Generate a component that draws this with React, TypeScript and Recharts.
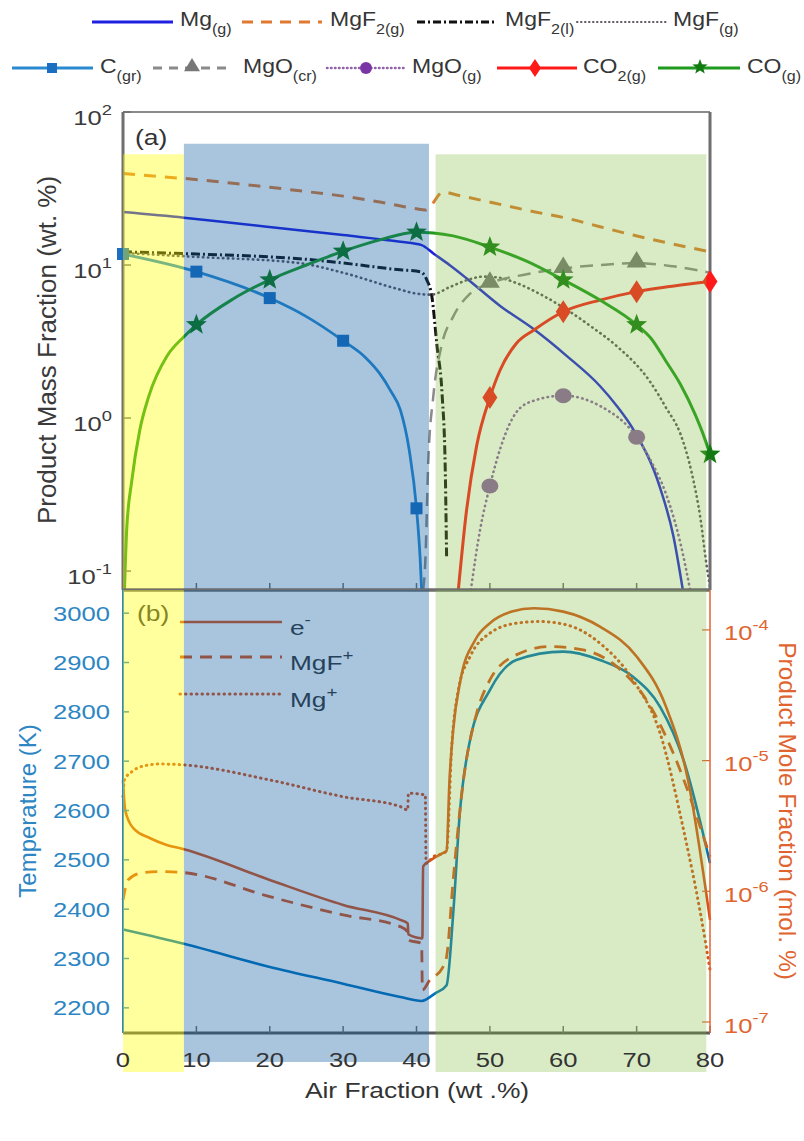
import React from 'react';
import { ComposedChart, Line, XAxis, YAxis, ReferenceArea } from 'recharts';

type Pt = [number, number];

// ---------- panel (a): product mass fraction, wt.% vs air fraction, wt.% ----------
const mgGas: Pt[] = [[0, 22.2], [8.3, 20.4], [15, 18.8], [24, 16.9], [30, 15.7], [37.8, 14.2], [40.7, 13.5], [42.3, 11.9], [44.5, 10.0], [46.8, 8.2], [51.4, 5.4], [56, 3.8], [60.5, 2.54], [65, 1.62], [67.3, 1.2], [69.5, 0.85], [73.2, 0.35], [75, 0.17], [76.3, 0.0752]];
const mgf2Gas: Pt[] = [[0, 39.7], [5, 37.8], [8.3, 36.8], [15, 34.2], [20, 32.2], [25, 30.2], [30, 28.2], [35, 25.8], [38, 24.2], [40, 23.3], [41.2, 22.9], [42, 24.6], [43.6, 30.0], [45.5, 28.7], [50.4, 25.5], [56, 22.3], [60.5, 20.2], [65, 17.8], [69.5, 15.7], [74.1, 14.0], [80, 12.2]];
const mgf2Liq: Pt[] = [[0, 12.2], [10, 11.8], [20, 11.3], [24, 11.0], [30, 10.3], [37.8, 9.3], [40.5, 9.05], [41.4, 8.0], [42.1, 6.2], [42.8, 2.95], [43.5, 1.4], [43.9, 0.51], [44.1, 0.125]];
const mgfGas: Pt[] = [[0, 12.0], [10, 11.3], [24, 10.3], [30, 8.9], [37.8, 6.9], [40, 6.5], [42, 6.4], [44.6, 7.2], [47, 8.0], [49.1, 8.4], [51, 8.3], [53.7, 7.6], [57, 6.4], [60.5, 5.1], [64, 3.9], [67.3, 2.95], [71.9, 1.71], [74, 1.17], [76, 0.78], [77.5, 0.44], [78.7, 0.22], [79.5, 0.112], [80, 0.079]];
const cGr: Pt[] = [[0, 11.8], [10, 9.05], [20, 6.08], [25, 4.6], [30, 3.2], [33, 2.5], [35, 1.95], [36.5, 1.5], [37.8, 1.13], [39, 0.62], [40, 0.257], [40.5, 0.12], [40.7, 0.0752]];
const cGrMarks: Pt[] = [[0, 11.8], [10, 9.05], [20, 6.08], [30, 3.2], [40, 0.257]];
const mgoCr: Pt[] = [[40.9, 0.0752], [41.2, 0.115], [41.6, 0.51], [42.3, 1.4], [43.4, 2.95], [45, 4.6], [47.3, 6.5], [50, 7.6], [55, 8.7], [60, 9.5], [65, 10.0], [70, 10.3], [75, 9.8], [80, 8.9]];
const mgoCrMarks: Pt[] = [[50, 7.6], [60, 9.5], [70, 10.3]];
const mgoGas: Pt[] = [[47.4, 0.0752], [48.7, 0.19], [50, 0.36], [51.5, 0.65], [53.6, 1.09], [56, 1.3], [60, 1.4], [65, 1.2], [70, 0.75], [72, 0.52], [74.1, 0.31], [76, 0.15], [77.3, 0.0752]];
const mgoGasMarks: Pt[] = [[50, 0.36], [60, 1.4], [70, 0.75]];
const co2Gas: Pt[] = [[45.7, 0.0752], [46.8, 0.245], [48.2, 0.66], [50, 1.36], [51.4, 2.06], [53.6, 3.07], [56, 3.76], [60, 4.95], [65, 5.9], [70, 6.7], [75.1, 7.3], [80, 7.8]];
const co2Marks: Pt[] = [[50, 1.36], [60, 4.95], [70, 6.7], [80, 7.8]];
const coGas: Pt[] = [[0.2, 0.0752], [0.5, 0.185], [1.2, 0.39], [2.3, 0.84], [3.5, 1.38], [6, 2.54], [8.3, 3.4], [10, 4.07], [15, 6.0], [20, 8.0], [25, 10.0], [30, 12.3], [35, 14.6], [40, 16.4], [42.3, 16.2], [45, 15.5], [50, 13.1], [55, 10.6], [60, 8.0], [65, 5.9], [70, 4.07], [72, 3.3], [74, 2.35], [76, 1.65], [78, 1.05], [79, 0.8], [80, 0.58]];
const coMarks: Pt[] = [[10, 4.07], [20, 8.0], [30, 12.3], [40, 16.4], [50, 13.1], [60, 8.0], [70, 4.07], [80, 0.58]];

// ---------- panel (b): temperature (K) and ion mole fractions ----------
const temperatureK: Pt[] = [[0, 2359], [8.3, 2330], [20, 2283], [30, 2249], [37.8, 2222], [40.7, 2214], [42.5, 2229], [44.1, 2246], [45, 2391], [45.9, 2594], [47.3, 2743], [50, 2844], [53.6, 2905], [60, 2922], [65, 2905], [69.5, 2871], [73.2, 2810], [76.4, 2702], [80, 2493]];
// mole fractions, stored as powers of ten
const electronExp: Pt[] = [[0, -5.15], [0.3, -5.38], [1.4, -5.517], [3.7, -5.594], [5.95, -5.645], [8.3, -5.678], [20, -5.913], [30, -6.104], [37.8, -6.219], [38.8, -6.245], [38.9, -6.33], [40.8, -6.36], [40.9, -5.81], [42, -5.76], [43.5, -5.71], [44.1, -5.69], [44.5, -5.148], [45, -4.765], [46, -4.383], [48, -4.077], [50, -3.949], [53, -3.86], [56, -3.834], [60, -3.86], [65, -3.975], [70, -4.204], [74, -4.587], [77, -5.148], [80, -6.219]];
const mgfIonExp: Pt[] = [[0, -6.066], [0.7, -5.913], [2.3, -5.862], [5, -5.849], [8.3, -5.857], [20, -6.041], [30, -6.181], [37.8, -6.27], [38.8, -6.31], [38.9, -6.372], [40.7, -6.4], [40.8, -6.755], [41.8, -6.68], [43.5, -6.589], [44.1, -6.5], [45, -5.913], [46.4, -5.148], [48.2, -4.637], [50, -4.383], [53.6, -4.191], [58.1, -4.128], [62.7, -4.153], [67.3, -4.281], [71.9, -4.587], [75, -4.944], [80, -5.735]];
const mgIonExp: Pt[] = [[0, -5.276], [0.2, -5.148], [1.2, -5.085], [2.8, -5.041], [5, -5.026], [8.3, -5.033], [20, -5.148], [30, -5.276], [37.8, -5.352], [38.8, -5.377], [38.9, -5.25], [41.2, -5.263], [41.3, -5.786], [42.3, -5.735], [43.6, -5.71], [44.1, -5.69], [44.8, -4.893], [45.7, -4.459], [47.3, -4.204], [50, -4.025], [53.6, -3.949], [56.8, -3.936], [60.5, -3.962], [65, -4.102], [69.5, -4.383], [73.2, -4.791], [76.4, -5.531], [78.7, -6.169], [80, -6.6]];

// ---------- axes ----------
const airTicks = [0, 10, 20, 30, 40, 50, 60, 70, 80];
const steps = [2, 3, 4, 5, 6, 7, 8, 9];
const massDecades = [0.1, 1, 10, 100];
const massMinor = [0.08, 0.09, ...steps.map((k) => k / 10), ...steps, ...steps.map((k) => k * 10)];
const tempTicks = [2200, 2300, 2400, 2500, 2600, 2700, 2800, 2900, 3000];
const moleDecades = [1e-7, 1e-6, 1e-5, 1e-4];
const moleMinor = [9e-8, ...steps.map((k) => k * 1e-7), ...steps.map((k) => k * 1e-6), ...steps.map((k) => k * 1e-5), 2e-4];

const MASS_DOMAIN: [number, number] = [0.0752, 100];
const TEMP_DOMAIN: [number, number] = [2149, 3047];
const MOLE_DOMAIN: [number, number] = [8.24e-8, 2.02e-4];

// shaded regimes (air fraction, wt.%)
const regimes = [
  { x1: 0, x2: 8.3, fill: '#ffff00', op: 0.38, topMass: 53, bottomT: 2070 },
  { x1: 8.3, x2: 41.7, fill: '#0a5aa0', op: 0.35, topMass: 62, bottomT: 2090 },
  { x1: 42.6, x2: 79.5, fill: '#7dbe3c', op: 0.3, topMass: 53, bottomT: 2070 },
];

const FONT = "'Liberation Sans', Arial, Helvetica, sans-serif";
const INK = '#363636';
const FRAME = '#6f6f6f';
const T_COL = '#0072bd';
const T_TXT = '#2d86c3';
const ION = '#d95319';
const ION_TXT = '#e0642f';
const COL = {
  mg: '#2020e0',
  mgf2g: '#e07a30',
  mgf2l: '#111111',
  mgf: '#5f5660',
  cgr: '#2a8ad0',
  cgrMark: '#1b6fc0',
  mgocr: '#8a8a8a',
  mgocrMark: '#777777',
  mgog: '#9060a8',
  co2: '#ff1a1a',
  co: '#1f9a1f',
  coMark: '#127a12',
};

const pts = (a: Pt[]) => a.map(([x, v]) => ({ x, v }));
const pow10 = (a: Pt[]) => a.map(([x, e]) => ({ x, v: Math.pow(10, e) }));

// ---------- small drawing helpers ----------
const Wide = ({ x, y, size, anchor = 'start', fill = INK, sx = 1.22, children }: any) => (
  <text transform={`translate(${x} ${y}) scale(${sx} 1)`} fontSize={size} fontFamily={FONT} textAnchor={anchor} fill={fill}>
    {children}
  </text>
);

const RotText = ({ x, y, angle, size, fill = INK, children }: any) => (
  <text transform={`translate(${x} ${y}) rotate(${angle})`} y={size * 0.36} fontSize={size} fontFamily={FONT} textAnchor="middle" fill={fill}>
    {children}
  </text>
);

const starPath = (cx: number, cy: number, R: number, r: number) => {
  let d = '';
  for (let i = 0; i < 10; i++) {
    const a = -Math.PI / 2 + (i * Math.PI) / 5;
    const rad = i % 2 ? r : R;
    d += (i ? 'L' : 'M') + (cx + rad * Math.cos(a)).toFixed(2) + ',' + (cy + rad * Math.sin(a)).toFixed(2);
  }
  return d + 'Z';
};
const diamondPath = (cx: number, cy: number, w: number, h: number) => `M${cx},${cy - h}L${cx + w},${cy}L${cx},${cy + h}L${cx - w},${cy}Z`;
const trianglePath = (cx: number, cy: number, s: number) => `M${cx},${cy - s}L${cx + s},${cy + s * 0.65}L${cx - s},${cy + s * 0.65}Z`;

const squareDot = (p: any) => <rect key={`sq${p.index}`} x={p.cx - 6} y={p.cy - 6} width={12} height={12} fill={COL.cgrMark} />;
const triDot = (p: any) => <path key={`tr${p.index}`} d={trianglePath(p.cx, p.cy - 2, 10)} fill={COL.mgocrMark} />;
const circleDot = (p: any) => <ellipse key={`ci${p.index}`} cx={p.cx} cy={p.cy} rx={8.5} ry={7.5} fill={COL.mgog} />;
const diamondDot = (p: any) => <path key={`di${p.index}`} d={diamondPath(p.cx, p.cy, 7.5, 11.5)} fill={COL.co2} />;
const starDot = (p: any) => <path key={`st${p.index}`} d={starPath(p.cx, p.cy, 11, 4.6)} fill={COL.coMark} />;

// ---------- tick renderers ----------
const Blank = () => <g />;

const MassTick = (p: any) => {
  const e = Math.round(Math.log10(p.payload.value));
  return (
    <Wide x={p.x - 19} y={p.y + 12.5} size={21} anchor="end" fill="#3a3a3a">
      10<tspan dy={-10} fontSize={15}>{e}</tspan>
    </Wide>
  );
};

const TempTick = (p: any) => (
  <Wide x={p.x - 19} y={p.y + 7.5} size={21} anchor="end" fill={T_TXT}>
    {p.payload.value}
  </Wide>
);

const MoleTick = (p: any) => {
  const e = Math.round(Math.log10(p.payload.value));
  return (
    <Wide x={p.x + 22} y={p.y + 10.5} size={21} anchor="start" fill={ION_TXT}>
      10<tspan dy={-10} fontSize={15}>{e}</tspan>
    </Wide>
  );
};

const AirTick = (p: any) => (
  <Wide x={p.x} y={p.y + 41} size={21} anchor="middle" fill="#333">
    {p.payload.value}
  </Wide>
);

const frameLine = { stroke: FRAME, strokeWidth: 3 };
const frameTick = { stroke: FRAME, strokeWidth: 1.5 };

// ---------- top legend ----------
function TopLegend() {
  const sub = (t: string) => <tspan dy={8} fontSize={14}>{t}</tspan>;
  return (
    <svg width={804} height={100} style={{ position: 'absolute', left: 0, top: 0 }}>
      {/* row 1 */}
      <line x1={92} y1={22} x2={173} y2={22} stroke={COL.mg} strokeWidth={3} />
      <Wide x={180} y={26} size={20} sx={1.15}>Mg{sub('(g)')}</Wide>
      <line x1={242} y1={22} x2={322} y2={22} stroke={COL.mgf2g} strokeWidth={3} strokeDasharray="11 8" />
      <Wide x={330} y={26} size={20} sx={1.15}>MgF{sub('2(g)')}</Wide>
      <line x1={417} y1={22} x2={497} y2={22} stroke={COL.mgf2l} strokeWidth={3} strokeDasharray="8 3 2 3" />
      <Wide x={505} y={26} size={20} sx={1.15}>MgF{sub('2(l)')}</Wide>
      <line x1={577} y1={22} x2={667} y2={22} stroke={COL.mgf} strokeWidth={2} strokeDasharray="0.5 3.5" strokeLinecap="round" />
      <Wide x={673} y={26} size={20} sx={1.15}>MgF{sub('(g)')}</Wide>
      {/* row 2 */}
      <line x1={12} y1={68} x2={93} y2={68} stroke={COL.cgr} strokeWidth={3} />
      <rect x={47} y={63} width={10} height={10} fill={COL.cgrMark} />
      <Wide x={100} y={73} size={20} sx={1.15}>C{sub('(gr)')}</Wide>
      <line x1={153} y1={68} x2={233} y2={68} stroke={COL.mgocr} strokeWidth={3} strokeDasharray="9 7" />
      <path d={trianglePath(192, 66, 8)} fill={COL.mgocrMark} />
      <Wide x={243} y={73} size={20} sx={1.15}>MgO{sub('(cr)')}</Wide>
      <line x1={327} y1={68} x2={405} y2={68} stroke={COL.mgog} strokeWidth={2.5} strokeDasharray="0.5 3.5" strokeLinecap="round" />
      <ellipse cx={366} cy={68} rx={6} ry={6} fill="#7a35a5" />
      <Wide x={412} y={73} size={20} sx={1.15}>MgO{sub('(g)')}</Wide>
      <line x1={497} y1={68} x2={577} y2={68} stroke={COL.co2} strokeWidth={3} />
      <path d={diamondPath(535, 68, 6, 9)} fill={COL.co2} />
      <Wide x={583} y={73} size={20} sx={1.15}>CO{sub('2(g)')}</Wide>
      <line x1={658} y1={68} x2={740} y2={68} stroke={COL.co} strokeWidth={3} />
      <path d={starPath(700, 67, 8, 3.4)} fill={COL.coMark} />
      <Wide x={747} y={73} size={20} sx={1.15}>CO{sub('(g)')}</Wide>
    </svg>
  );
}

export default function App() {
  return (
    <div style={{ position: 'absolute', left: 0, top: 0, width: 804, height: 1141, background: '#fff', overflow: 'hidden' }}>
      {/* panel (a) */}
      <div style={{ position: 'absolute', left: 0, top: 0 }}>
        <ComposedChart width={804} height={600} margin={{ top: 110, right: 54, bottom: 0, left: 63 }}>
          <XAxis xAxisId="b" type="number" dataKey="x" domain={[0, 80]} ticks={airTicks} interval={0} height={10} tick={Blank} tickSize={-7} tickMargin={0} axisLine={frameLine} tickLine={frameTick} />
          <XAxis xAxisId="t" orientation="top" type="number" dataKey="x" domain={[0, 80]} ticks={airTicks} interval={0} height={2} tick={Blank} tickSize={-7} tickMargin={0} axisLine={{ stroke: '#8a8a8a', strokeWidth: 2 }} tickLine={frameTick} />
          <YAxis yAxisId="lm" orientation="left" width={0} type="number" scale="log" domain={MASS_DOMAIN} ticks={massMinor} interval={0} tick={Blank} tickSize={-4} axisLine={false} tickLine={frameTick} />
          <YAxis yAxisId="l" orientation="left" width={60} type="number" scale="log" domain={MASS_DOMAIN} ticks={massDecades} interval={0} tick={MassTick} tickSize={-8} tickMargin={0} axisLine={frameLine} tickLine={frameTick} />
          <YAxis yAxisId="rm" orientation="right" width={0} type="number" scale="log" domain={MASS_DOMAIN} ticks={massMinor} interval={0} tick={Blank} tickSize={-4} axisLine={false} tickLine={frameTick} />
          <YAxis yAxisId="r" orientation="right" width={40} type="number" scale="log" domain={MASS_DOMAIN} ticks={massDecades} interval={0} tick={Blank} tickSize={-8} tickMargin={0} axisLine={frameLine} tickLine={frameTick} />

          <Line xAxisId="b" yAxisId="l" data={pts(mgf2Gas)} dataKey="v" type="monotone" stroke={COL.mgf2g} strokeWidth={3} strokeDasharray="12 9" dot={false} activeDot={false} isAnimationActive={false} />
          <Line xAxisId="b" yAxisId="l" data={pts(mgGas)} dataKey="v" type="monotone" stroke={COL.mg} strokeWidth={2.5} dot={false} activeDot={false} isAnimationActive={false} />
          <Line xAxisId="b" yAxisId="l" data={pts(mgf2Liq)} dataKey="v" type="monotone" stroke={COL.mgf2l} strokeWidth={3} strokeDasharray="9 3 2 3" dot={false} activeDot={false} isAnimationActive={false} />
          <Line xAxisId="b" yAxisId="l" data={pts(mgfGas)} dataKey="v" type="monotone" stroke={COL.mgf} strokeWidth={2.6} strokeDasharray="0.5 4.5" strokeLinecap="round" dot={false} activeDot={false} isAnimationActive={false} />
          <Line xAxisId="b" yAxisId="l" data={pts(mgoCr)} dataKey="v" type="monotone" stroke={COL.mgocr} strokeWidth={2.5} strokeDasharray="13 8" dot={false} activeDot={false} isAnimationActive={false} />
          <Line xAxisId="b" yAxisId="l" data={pts(mgoGas)} dataKey="v" type="monotone" stroke={COL.mgog} strokeWidth={2.6} strokeDasharray="0.5 4.5" strokeLinecap="round" dot={false} activeDot={false} isAnimationActive={false} />
          <Line xAxisId="b" yAxisId="l" data={pts(cGr)} dataKey="v" type="monotone" stroke={COL.cgr} strokeWidth={2.8} dot={false} activeDot={false} isAnimationActive={false} />
          <Line xAxisId="b" yAxisId="l" data={pts(co2Gas)} dataKey="v" type="monotone" stroke={COL.co2} strokeWidth={3} dot={false} activeDot={false} isAnimationActive={false} />
          <Line xAxisId="b" yAxisId="l" data={pts(coGas)} dataKey="v" type="monotone" stroke={COL.co} strokeWidth={3} dot={false} activeDot={false} isAnimationActive={false} />

          <Line xAxisId="b" yAxisId="l" data={pts(cGrMarks)} dataKey="v" stroke="none" dot={squareDot} activeDot={false} isAnimationActive={false} />
          <Line xAxisId="b" yAxisId="l" data={pts(mgoCrMarks)} dataKey="v" stroke="none" dot={triDot} activeDot={false} isAnimationActive={false} />
          <Line xAxisId="b" yAxisId="l" data={pts(mgoGasMarks)} dataKey="v" stroke="none" dot={circleDot} activeDot={false} isAnimationActive={false} />
          <Line xAxisId="b" yAxisId="l" data={pts(co2Marks)} dataKey="v" stroke="none" dot={diamondDot} activeDot={false} isAnimationActive={false} />
          <Line xAxisId="b" yAxisId="l" data={pts(coMarks)} dataKey="v" stroke="none" dot={starDot} activeDot={false} isAnimationActive={false} />

          <Wide x={135} y={145} size={22} sx={1.2} fill="#333">(a)</Wide>
          <RotText x={47} y={350} angle={-90} size={26} fill="#3a3a3a">Product Mass Fraction (wt. %)</RotText>

          {regimes.map((r, i) => (
            <ReferenceArea key={`ra${i}`} xAxisId="b" yAxisId="l" x1={r.x1} x2={r.x2} y1={MASS_DOMAIN[0]} y2={r.topMass} fill={r.fill} fillOpacity={r.op} stroke="none" ifOverflow="visible" zIndex={1500} />
          ))}
        </ComposedChart>
      </div>

      {/* panel (b) */}
      <div style={{ position: 'absolute', left: 0, top: 560 }}>
        <ComposedChart width={804} height={581} margin={{ top: 28, right: 54, bottom: 48, left: 63 }}>
          <XAxis xAxisId="b" type="number" dataKey="x" domain={[0, 80]} ticks={airTicks} interval={0} height={60} tick={AirTick} tickSize={-7} tickMargin={0} axisLine={{ stroke: '#5a5a5a', strokeWidth: 3 }} tickLine={frameTick} />
          <XAxis xAxisId="t" orientation="top" type="number" dataKey="x" domain={[0, 80]} ticks={airTicks} interval={0} height={2} tick={Blank} tickSize={-7} tickMargin={0} axisLine={frameLine} tickLine={frameTick} />
          <YAxis yAxisId="T" orientation="left" width={60} type="number" domain={TEMP_DOMAIN} allowDataOverflow ticks={tempTicks} interval={0} tick={TempTick} tickSize={-6} tickMargin={0} axisLine={{ stroke: T_TXT, strokeWidth: 2 }} tickLine={{ stroke: T_TXT, strokeWidth: 1.5 }} />
          <YAxis yAxisId="mm" orientation="right" width={0} type="number" scale="log" domain={MOLE_DOMAIN} allowDataOverflow ticks={moleMinor} interval={0} tick={Blank} tickSize={-4} axisLine={false} tickLine={{ stroke: ION_TXT, strokeWidth: 1.2 }} />
          <YAxis yAxisId="m" orientation="right" width={40} type="number" scale="log" domain={MOLE_DOMAIN} allowDataOverflow ticks={moleDecades} interval={0} tick={MoleTick} tickSize={-8} tickMargin={0} axisLine={{ stroke: ION_TXT, strokeWidth: 1.5 }} tickLine={{ stroke: ION_TXT, strokeWidth: 1.2 }} />

          <Line xAxisId="b" yAxisId="T" data={pts(temperatureK)} dataKey="v" type="monotone" stroke={T_COL} strokeWidth={2.6} dot={false} activeDot={false} isAnimationActive={false} />
          <Line xAxisId="b" yAxisId="m" data={pow10(mgfIonExp)} dataKey="v" type="monotone" stroke={ION} strokeWidth={2.8} strokeDasharray="12 8" dot={false} activeDot={false} isAnimationActive={false} />
          <Line xAxisId="b" yAxisId="m" data={pow10(mgIonExp)} dataKey="v" type="monotone" stroke={ION} strokeWidth={3} strokeDasharray="0.5 5" strokeLinecap="round" dot={false} activeDot={false} isAnimationActive={false} />
          <Line xAxisId="b" yAxisId="m" data={pow10(electronExp)} dataKey="v" type="monotone" stroke={ION} strokeWidth={2.6} dot={false} activeDot={false} isAnimationActive={false} />

          {/* ion legend and labels */}
          <Wide x={137} y={61} size={22} sx={1.2} fill="#3a3a3a">(b)</Wide>
          <line x1={180} y1={62} x2={282} y2={62} stroke={ION} strokeWidth={2.6} />
          <Wide x={290} y={74.5} size={21} sx={1.25}>e<tspan dy={-10} fontSize={15}>-</tspan></Wide>
          <line x1={180} y1={97} x2={282} y2={97} stroke={ION} strokeWidth={2.8} strokeDasharray="12 8" />
          <Wide x={290} y={109.5} size={21} sx={1.25}>MgF<tspan dy={-10} fontSize={15}>+</tspan></Wide>
          <line x1={180} y1={134} x2={282} y2={134} stroke={ION} strokeWidth={3} strokeDasharray="0.5 5" strokeLinecap="round" />
          <Wide x={290} y={146.5} size={21} sx={1.25}>Mg<tspan dy={-10} fontSize={15}>+</tspan></Wide>

          <RotText x={27} y={251} angle={-90} size={24} fill={T_TXT}>Temperature (K)</RotText>
          <RotText x={788} y={251} angle={90} size={24.5} fill={ION_TXT}>Product Mole Fraction (mol. %)</RotText>
          <Wide x={417} y={538} size={22} sx={1.2} anchor="middle" fill="#333">Air Fraction (wt .%)</Wide>

          {regimes.map((r, i) => (
            <ReferenceArea key={`rb${i}`} xAxisId="b" yAxisId="T" x1={r.x1} x2={r.x2} y1={r.bottomT} y2={TEMP_DOMAIN[1]} fill={r.fill} fillOpacity={r.op} stroke="none" ifOverflow="visible" zIndex={1500} />
          ))}
        </ComposedChart>
      </div>

      <TopLegend />
    </div>
  );
}
